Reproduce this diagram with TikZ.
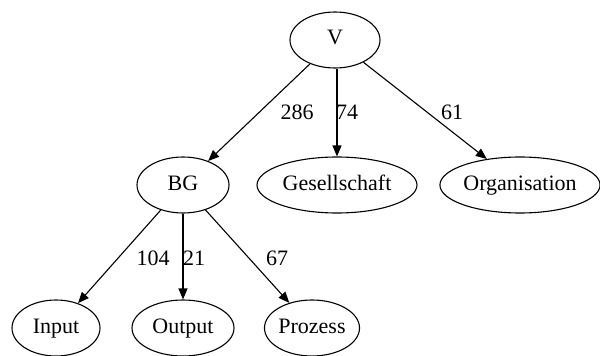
\documentclass[tikz,border=0pt]{standalone}
\usepackage{fontspec}
\setmainfont{Liberation Serif}
\usetikzlibrary{shapes.geometric,arrows.meta}
\begin{document}
\begin{tikzpicture}[x=1pt,y=-1pt,
  every node/.style={font=\fontsize{22}{26}\selectfont},
  nd/.style={ellipse,draw,line width=1.1pt,inner sep=0pt,minimum height=56pt,text height=14pt,text depth=4pt},
  edge/.style={line width=1.1pt,-{Triangle[length=11pt,width=9pt]}},
  lbl/.style={inner sep=0pt,text height=14pt,text depth=0pt}]
\useasboundingbox (0,0) rectangle (600,356);
\node[nd,minimum width=90pt]  (V)   at (335,40)  {V};
\node[nd,minimum width=92pt]  (BG)  at (183,185) {BG};
\node[nd,minimum width=160pt] (G)   at (337,185) {Gesellschaft};
\node[nd,minimum width=154pt] (O)   at (520,185) {Organisation};
\node[nd,minimum width=88pt]  (I)   at (56,328)  {Input};
\node[nd,minimum width=102pt] (Out) at (183,328) {Output};
\node[nd,minimum width=92pt]  (P)   at (312,328) {Prozess};
\draw[edge] (V) -- (BG);
\draw[edge] (V.south -| G.north) -- (G.north);
\draw[edge] (V) -- (O);
\draw[edge] (BG) -- (I);
\draw[edge] (BG.south) -- (Out.north);
\draw[edge] (BG) -- (P);
\node[lbl] (l286) at (297,112) {286};
\node[lbl] (l74)  at (347,112) {74};
\node[lbl] (l61)  at (452,112) {61};
\node[lbl] (l104) at (153,258) {104};
\node[lbl] (l21)  at (194,258) {21};
\node[lbl] (l67)  at (277,258) {67};
\end{tikzpicture}
\end{document}
